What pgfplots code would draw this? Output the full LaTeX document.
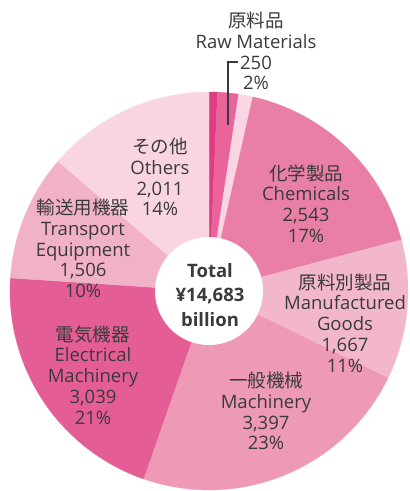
\documentclass[border=0pt]{standalone}
\usepackage{fontspec}
\usepackage{pgfplots}
\usepackage{pgfplotstable}
\pgfplotsset{compat=1.18}
\setmainfont{Open Sans}
\newfontfamily\jp{Noto Sans CJK JP}
\definecolor{txt}{HTML}{3A3A3A}
\definecolor{cfood}{HTML}{E03C82}
\definecolor{craw}{HTML}{E8649B}
\definecolor{cfuel}{HTML}{F9D6E2}
\definecolor{cchem}{HTML}{E97FA7}
\definecolor{cmanu}{HTML}{F3B7CC}
\definecolor{cmach}{HTML}{EE99B6}
\definecolor{celec}{HTML}{E45E95}
\definecolor{ctran}{HTML}{F1B2C8}
\definecolor{cothr}{HTML}{F9D5E0}

% export value, fill colour (clockwise from 12 o'clock)
\pgfplotstableread{
v c
100 cfood
250 craw
170 cfuel
2543 cchem
1667 cmanu
3397 cmach
3039 celec
1506 ctran
2011 cothr
}\pietable

\begin{document}
\begin{tikzpicture}
\begin{axis}[
  scale only axis, width=408pt, height=491pt,
  xmin=0, xmax=408, ymin=0, ymax=491,
  hide axis, clip=false,
]
\path (rel axis cs:0,0) rectangle (rel axis cs:1,1);
\pgfplotstablegetrowsof{\pietable}
\pgfmathtruncatemacro\N{\pgfplotsretval-1}
\def\cum{0}
\pgfplotsforeachungrouped \i in {0,...,\N}{
  \pgfplotstablegetelem{\i}{v}\of\pietable \let\v\pgfplotsretval
  \pgfplotstablegetelem{\i}{c}\of\pietable \let\c\pgfplotsretval
  \pgfmathsetmacro\a{90-\cum/14683*360}
  \pgfmathsetmacro\cum{\cum+\v}
  \pgfmathsetmacro\b{90-\cum/14683*360}
  \edef\temp{\noexpand\addplot[fill=\c, draw=\c, line width=0.3pt,
    domain=\b:\a, samples=80]
    ({209+199*cos(x)}, {200+199*sin(x)}) -- (209,200) -- cycle;}
  \temp
}
\addplot[fill=white, draw=none, domain=0:360, samples=120]
  ({209+54*cos(x)}, {200+54*sin(x)}) -- cycle;

\draw[txt, line width=1.2pt] (228,366) -- (228,429) -- (238,429);

\begin{scope}[every node/.style={align=center, text=txt,
    font=\fontsize{18.5}{20.7}\selectfont}]
\node at (256,440) {{\jp 原料品}\\Raw Materials\\250\\2\%};
\node at (306,287.5) {{\jp 化学製品}\\Chemicals\\2,543\\17\%};
\node at (345,168) {{\jp 原料別製品}\\Manufactured\\Goods\\1,667\\11\%};
\node at (266,80) {{\jp 一般機械}\\Machinery\\3,397\\23\%};
\node at (93,116) {{\jp 電気機器}\\Electrical\\Machinery\\3,039\\21\%};
\node at (83,242.5) {{\jp 輸送用機器}\\Transport\\Equipment\\1,506\\10\%};
\node at (160,314) {{\jp その他}\\Others\\2,011\\14\%};
\node[font=\fontsize{18.5}{24.5}\selectfont\bfseries] at (210,196) {Total\\¥14,683\\billion};
\end{scope}
\end{axis}
\end{tikzpicture}
\end{document}
